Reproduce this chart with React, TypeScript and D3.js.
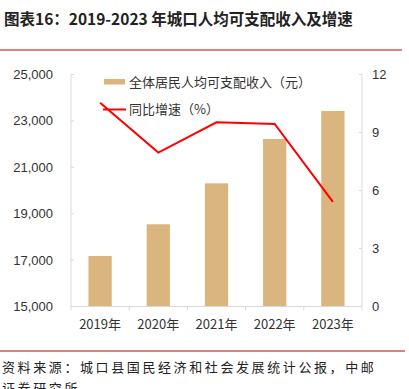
import React from "react";
import * as d3 from "d3";

const categories = ["2019年", "2020年", "2021年", "2022年", "2023年"];
const incomeValues = [17177, 18543, 20310, 22220, 23427];
const growthValues = [10.54, 7.96, 9.53, 9.44, 5.41];
const leftTicks = [15000, 17000, 19000, 21000, 23000, 25000];
const rightTicks = [0, 3, 6, 9, 12];

const W = 409;
const H = 389;
const M = { left: 71, right: 362, top: 74.5, bottom: 306.5 };
const sans = "'Liberation Sans', Arial, sans-serif";
const cjk = "'Noto Sans CJK SC', 'Noto Sans', sans-serif";
const barColor = "#DBB57F";
const axisColor = "#D9D9D9";
const textColor = "#333";

export default function App() {
  const x = d3.scaleBand<string>().domain(categories).range([M.left, M.right]).paddingInner(0).paddingOuter(0);
  const yL = d3.scaleLinear().domain([15000, 25000]).range([M.bottom, M.top]);
  const yR = d3.scaleLinear().domain([0, 12]).range([M.bottom, M.top]);
  const barW = x.bandwidth() * 0.4;
  const fmt = d3.format(",");
  const line = d3
    .line<number>()
    .x((_, i) => (x(categories[i]) as number) + x.bandwidth() / 2)
    .y((d) => yR(d));

  return (
    <svg width={W} height={H} style={{ position: "absolute", left: 0, top: 0, background: "#fff" }}>
      <text x={4} y={25} fontFamily={cjk} fontWeight="bold" fontSize={15.5} fill="#222">
        图表16：2019-2023 年城口人均可支配收入及增速
      </text>
      <line x1={0} x2={402} y1={50} y2={50} stroke="#C00000" strokeWidth={1} />

      {/* bars */}
      {incomeValues.map((v, i) => {
        const cx = (x(categories[i]) as number) + x.bandwidth() / 2;
        return (
          <rect key={i} x={cx - barW / 2} y={yL(v)} width={barW} height={M.bottom - yL(v)} fill={barColor} />
        );
      })}

      {/* axes */}
      <line x1={M.left} x2={M.left} y1={M.top} y2={M.bottom} stroke={axisColor} />
      <line x1={M.right} x2={M.right} y1={M.top} y2={M.bottom} stroke={axisColor} />
      <line x1={M.left} x2={M.right} y1={M.bottom} y2={M.bottom} stroke={axisColor} />
      {leftTicks.map((t) => (
        <g key={"l" + t}>
          <line x1={M.left} x2={M.left + 3} y1={yL(t)} y2={yL(t)} stroke={axisColor} />
          <text x={53} y={yL(t)} dy="0.35em" textAnchor="end" fontFamily={sans} fontSize={13} fill={textColor}>
            {fmt(t)}
          </text>
        </g>
      ))}
      {rightTicks.map((t) => (
        <g key={"r" + t}>
          <line x1={M.right - 3} x2={M.right} y1={yR(t)} y2={yR(t)} stroke={axisColor} />
          <text x={372} y={yR(t)} dy="0.35em" textAnchor="start" fontFamily={sans} fontSize={13} fill={textColor}>
            {t}
          </text>
        </g>
      ))}
      {categories.map((c, i) => (
        <line
          key={"xt" + i}
          x1={x(c) as number}
          x2={x(c) as number}
          y1={M.bottom}
          y2={M.bottom + 4}
          stroke={axisColor}
        />
      ))}
      <line x1={M.right} x2={M.right} y1={M.bottom} y2={M.bottom + 4} stroke={axisColor} />
      {categories.map((c) => (
        <text
          key={"xl" + c}
          x={(x(c) as number) + x.bandwidth() / 2}
          y={324}
          dy="0.35em"
          textAnchor="middle"
          fontFamily={cjk}
          fontSize={13}
          fill={textColor}
        >
          {c}
        </text>
      ))}

      {/* growth line */}
      <path d={line(growthValues) as string} fill="none" stroke="#FF0000" strokeWidth={2} />

      {/* legend */}
      <rect x={104} y={79} width={21} height={5.5} fill={barColor} />
      <text x={129} y={82} dy="0.35em" fontFamily={cjk} fontSize={13} fill={textColor}>
        全体居民人均可支配收入（元）
      </text>
      <line x1={103} x2={126} y1={109.5} y2={109.5} stroke="#FF0000" strokeWidth={2} />
      <text x={129} y={109} dy="0.35em" fontFamily={cjk} fontSize={13} fill={textColor}>
        同比增速（%）
      </text>

      {/* source */}
      <line x1={0} x2={405} y1={351} y2={351} stroke="#C00000" strokeWidth={1} />
      <text x={2} y={367} dy="0.35em" fontFamily={cjk} fontSize={13} letterSpacing={2.6} fill="#222">
        资料来源：城口县国民经济和社会发展统计公报，中邮
      </text>
      <text x={2} y={388} dy="0.35em" fontFamily={cjk} fontSize={13} letterSpacing={2.6} fill="#222">
        证券研究所
      </text>
    </svg>
  );
}
